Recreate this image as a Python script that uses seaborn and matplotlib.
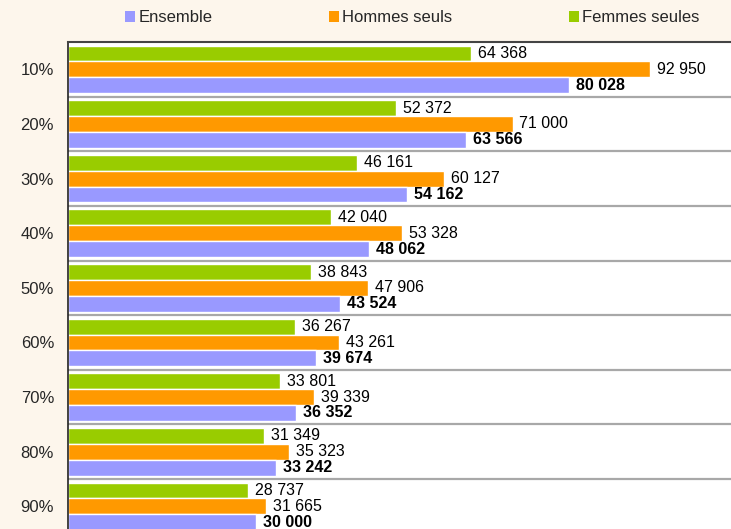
import numpy as np
import pandas as pd
import seaborn as sns
import matplotlib.pyplot as plt
from matplotlib.patches import Patch

# Déciles et valeurs
deciles = ['10%', '20%', '30%', '40%', '50%', '60%', '70%', '80%', '90%']
ensemble = [80028, 63566, 54162, 48062, 43524, 39674, 36352, 33242, 30000]
hommes = [92950, 71000, 60127, 53328, 47906, 43261, 39339, 35323, 31665]
femmes = [64368, 52372, 46161, 42040, 38843, 36267, 33801, 31349, 28737]

groupes = ['Femmes seules', 'Hommes seuls', 'Ensemble']
couleurs = {'Ensemble': '#9999FF', 'Hommes seuls': '#FF9900', 'Femmes seules': '#99CC00'}

df = pd.DataFrame({
    'decile': deciles * 3,
    'valeur': femmes + hommes + ensemble,
    'groupe': ['Femmes seules'] * 9 + ['Hommes seuls'] * 9 + ['Ensemble'] * 9,
})

sns.set_style('white')
plt.rcParams['font.family'] = ['Liberation Sans', 'DejaVu Sans']

fond = '#FDF6EC'
fig = plt.figure(figsize=(7.31, 5.29), dpi=100, facecolor=fond)
ax = fig.add_axes([68 / 731, -0.0089, 663 / 731, 0.9295])
ax.set_facecolor('white')

sns.barplot(data=df, x='valeur', y='decile', hue='groupe', hue_order=groupes,
            order=deciles, orient='h', palette=couleurs, width=0.87,
            errorbar=None, legend=False, saturation=1, ax=ax)

ax.set_xlim(0, 105900)
ax.set_ylim(8.5, -0.5)

def fmt(v):
    return f'{v:,}'.replace(',', ' ')

for cont, g in zip(ax.containers, groupes):
    vals = [int(b.get_width()) for b in cont]
    ax.bar_label(cont, labels=[fmt(v) for v in vals], padding=5, fontsize=11.5,
                 fontweight='bold' if g == 'Ensemble' else 'normal', color='black')

# lignes séparatrices entre déciles
ax.set_yticks(np.arange(len(deciles)) + 0.5, minor=True)
ax.grid(axis='y', which='minor', color='#A8A8A8', linewidth=1.6)
ax.grid(axis='y', which='major', visible=False)
ax.set_axisbelow(True)

ax.set_xlabel('')
ax.set_ylabel('')
ax.set_xticks([])
ax.tick_params(axis='y', which='both', length=0, pad=10, labelsize=12)
ax.spines['right'].set_visible(False)
ax.spines['bottom'].set_visible(False)
ax.spines['top'].set_color('#444444')
ax.spines['top'].set_linewidth(1.5)
ax.spines['left'].set_color('#222222')
ax.spines['left'].set_linewidth(1.2)

handles = [Patch(facecolor=couleurs[g], edgecolor='none') for g in ['Ensemble', 'Hommes seuls', 'Femmes seules']]
fig.legend(handles, ['Ensemble', 'Hommes seuls', 'Femmes seules'], loc='center',
           bbox_to_anchor=(0.564, 0.966), ncol=3, frameon=False, fontsize=12,
           handlelength=0.6, handleheight=0.6, handletextpad=0.2, columnspacing=7.0)

fig.savefig('out.png', dpi=100, facecolor=fond)
